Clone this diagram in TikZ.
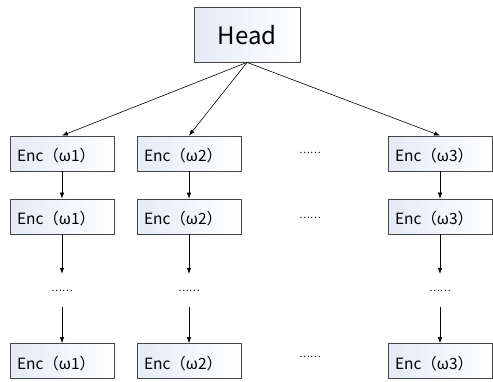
\documentclass[tikz,border=0pt]{standalone}
\usepackage{fontspec}
\setmainfont{Noto Sans CJK SC}
\usetikzlibrary{arrows.meta}

\definecolor{boxtint}{RGB}{228,235,246}
\definecolor{boxline}{RGB}{70,70,70}

\tikzset{
  box/.style={draw=boxline, line width=0.8pt, left color=boxtint, right color=white,
              inner sep=0pt},
  headbox/.style={box, minimum width=106pt, minimum height=55pt,
                  font=\fontsize{24pt}{26pt}\selectfont, text height=19pt, text depth=0pt},
  encbox/.style={box, minimum height=35pt, inner xsep=7pt, text width=90pt, align=left,
                 font=\fontsize{15.5pt}{17pt}\selectfont, text height=16pt, text depth=0pt},
  hdots/.style={font=\fontsize{10pt}{12pt}\selectfont, inner sep=0pt},
  vdots/.style={font=\fontsize{10pt}{12pt}\selectfont, inner sep=0pt,
                minimum height=33pt},
  link/.style={-{Latex[length=6pt,width=4.5pt]}, line width=0.6pt, black}
}

\begin{document}
\begin{tikzpicture}[x=1pt, y=-1pt]
  \useasboundingbox (0,0) rectangle (493,381);

  % top node
  \node[headbox] (head) at (247,34.5) {Head};

  % first row of encoders
  \node[encbox] (a1) at (62,153.5)  {Enc（ω1）};
  \node[encbox] (b1) at (189,153.5) {Enc（ω2）};
  \node[encbox] (c1) at (440,153.5) {Enc（ω3）};

  % second row
  \node[encbox] (a2) at (62,216.5)  {Enc（ω1）};
  \node[encbox] (b2) at (189,216.5) {Enc（ω2）};
  \node[encbox] (c2) at (440,216.5) {Enc（ω3）};

  % vertical gaps
  \node[vdots] (a3) at (62,290.5)  {……};
  \node[vdots] (b3) at (189,290.5) {……};
  \node[vdots] (c3) at (440,290.5) {……};

  % last row
  \node[encbox] (a4) at (62,361)  {Enc（ω1）};
  \node[encbox] (b4) at (189,361) {Enc（ω2）};
  \node[encbox] (c4) at (440,361) {Enc（ω3）};

  % horizontal gaps between columns
  \node[hdots] (h1) at (310,153) {……};
  \node[hdots] (h2) at (310,218) {……};
  \node[hdots] (h3) at (310,357) {……};

  % connectors
  \foreach \n in {a1,b1,c1}
    \draw[link] (head.south) -- (\n.north);
  \foreach \c in {a,b,c} {
    \draw[link] (\c1.south) -- (\c2.north);
    \draw[link] (\c2.south) -- (\c3.north);
    \draw[link] (\c3.south) -- (\c4.north);
  }
\end{tikzpicture}
\end{document}
